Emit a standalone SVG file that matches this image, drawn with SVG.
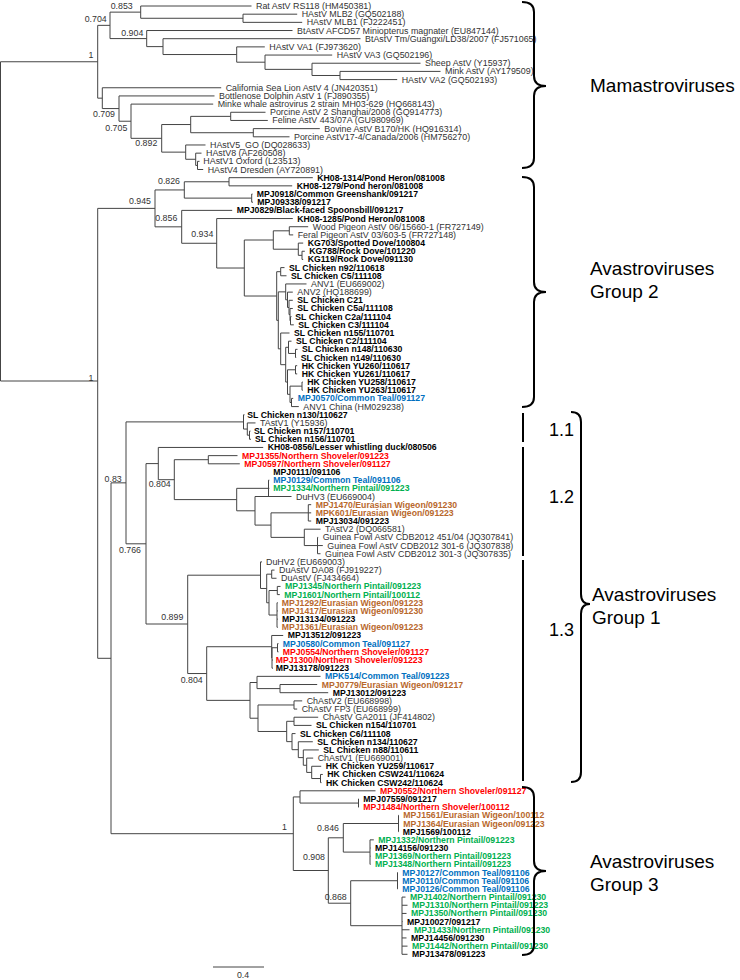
<svg xmlns="http://www.w3.org/2000/svg" width="740" height="980" viewBox="0 0 740 980">
<style>
text{font-family:"Liberation Sans",Arial,sans-serif}
.n{font-size:8.9px;fill:#333}
.b{font-size:8.7px;font-weight:bold;fill:#000}
.r{fill:#ff0000}.bl{fill:#0070c0}.g{fill:#00b050}.o{fill:#b8682c}
.s{font-size:8.8px;fill:#333;text-anchor:end}
.t{stroke:#444;stroke-width:1;fill:none}
.br{stroke:#000;stroke-width:2;fill:none}
.big{font-size:19px;fill:#000}
.sub{font-size:18px;fill:#000}
</style>
<rect width="740" height="980" fill="#fff"/>
<g id="connectors" class="t">
<path d="M0.5,61.76V381M0.5,61.76H97.7M0.5,381H97.7"/>
<path d="M97.7,25.35V98.16M97.7,25.35H110M97.7,98.16H102.3"/>
<path d="M110,12.13V38.58M110,12.13H140.7M110,38.58H146.7"/>
<path d="M140.7,6V18.27M140.7,6H251.5M140.7,18.27H243"/>
<path d="M243,14.18V22.35M243,14.18H297.2M243,22.35H302.2"/>
<path d="M146.7,30.53V46.62M146.7,30.53H292.5M146.7,46.62H163"/>
<path d="M163,38.7V54.54M163,38.7H360.5M163,54.54H236.7"/>
<path d="M236.7,46.88V62.2M236.7,46.88H264.8M236.7,62.2H265"/>
<path d="M265,55.05V69.36M265,55.05H332.2M265,69.36H312"/>
<path d="M312,63.23V75.49M312,63.23H420.5M312,75.49H340"/>
<path d="M340,71.4V79.58M340,71.4H440.5M340,79.58H397.2"/>
<path d="M102.3,87.75V108.57M102.3,87.75H221.2M102.3,108.57H119"/>
<path d="M119,95.93V121.22M119,95.93H214.5M119,121.22H131"/>
<path d="M131,104.1V138.33M131,104.1H213.2M131,138.33H161.7"/>
<path d="M161.7,124.54V152.13M161.7,124.54H190.7M161.7,152.13H185.7"/>
<path d="M190.7,116.37V132.72M190.7,116.37H230.7M190.7,132.72H253.3"/>
<path d="M230.7,112.28V120.45M230.7,112.28H265.5M230.7,120.45H267.8"/>
<path d="M253.3,128.63V136.8M253.3,128.63H319.8M253.3,136.8H289.5"/>
<path d="M185.7,144.98V159.28M185.7,144.98H205.5M185.7,159.28H195.7"/>
<path d="M195.7,153.15V165.41M195.7,153.15H201.5M195.7,165.41H197.5"/>
<path d="M197.5,161.33V169.5M197.5,161.33H199.5M197.5,169.5H203.2"/>
<path d="M97.7,208.39V658.3M97.7,208.39H155M97.7,658.3H111"/>
<path d="M155,189.94V226.83M155,189.94H184.3M155,226.83H181.7"/>
<path d="M184.3,181.77V198.12M184.3,181.77H229M184.3,198.12H251.7"/>
<path d="M229,177.68V185.85M229,177.68H312.8M229,185.85H292.2"/>
<path d="M251.7,194.03V202.2M251.7,194.03H252.5M251.7,202.2H253"/>
<path d="M181.7,210.38V243.28M181.7,210.38H232.2M181.7,243.28H216.7"/>
<path d="M216.7,218.55V268.02M216.7,218.55H292.8M216.7,268.02H244.3"/>
<path d="M244.3,240.01V296.02M244.3,240.01H273.3M244.3,296.02H276.7"/>
<path d="M273.3,230.82V249.21M273.3,230.82H289.3M273.3,249.21H298.3"/>
<path d="M289.3,226.73V234.9M289.3,226.73H308.2M289.3,234.9H293.2"/>
<path d="M298.3,243.08V255.34M298.3,243.08H303.2M298.3,255.34H302"/>
<path d="M302,251.25V259.43M302,251.25H304.8M302,259.43H303.2"/>
<path d="M276.7,271.69V320.35M276.7,271.69H280.7M276.7,320.35H278.3"/>
<path d="M280.7,267.6V275.78M280.7,267.6H284.5M280.7,275.78H286.5"/>
<path d="M278.3,291.87V348.84M278.3,291.87H285.7M278.3,348.84H280.7"/>
<path d="M285.7,283.95V299.8M285.7,283.95H306.5M285.7,299.8H287.5"/>
<path d="M287.5,292.13V307.46M287.5,292.13H292.8M287.5,307.46H289"/>
<path d="M289,300.3V314.61M289,300.3H292.8M289,314.61H290"/>
<path d="M290,308.48V320.74M290,308.48H292.8M290,320.74H290.5"/>
<path d="M290.5,316.65V324.83M290.5,316.65H291.5M290.5,324.83H293.8"/>
<path d="M280.7,333V364.68M280.7,333H289.5M280.7,364.68H285.7"/>
<path d="M285.7,347.31V382.05M285.7,347.31H288.5M285.7,382.05H287.5"/>
<path d="M288.5,341.18V353.44M288.5,341.18H291.5M288.5,353.44H295.5"/>
<path d="M295.5,349.35V357.53M295.5,349.35H297.5M295.5,357.53H296.2"/>
<path d="M287.5,369.79V394.32M287.5,369.79H295.5M287.5,394.32H290"/>
<path d="M295.5,365.7V373.88M295.5,365.7H297.2M295.5,373.88H297.2"/>
<path d="M290,386.14V402.49M290,386.14H302M290,402.49H291.5"/>
<path d="M302,382.05V390.23M302,382.05H302.8M302,390.23H302.8"/>
<path d="M291.5,398.4V406.58M291.5,398.4H293.2M291.5,406.58H298.8"/>
<path d="M111,482.85V833.7M111,482.85H126M111,833.7H293.3"/>
<path d="M126,421.9V543.8M126,421.9H243.5M126,543.8H146"/>
<path d="M243.5,414.75V429.06M243.5,414.75H244.5M243.5,429.06H247.3"/>
<path d="M247.3,422.93V435.19M247.3,422.93H255.5M247.3,435.19H249.5"/>
<path d="M249.5,431.1V439.28M249.5,431.1H250.5M249.5,439.28H251"/>
<path d="M146,463.6V624M146,463.6H158.3M146,624H187.7"/>
<path d="M158.3,447.45V479.7M158.3,447.45H263.2M158.3,479.7H174.3"/>
<path d="M174.3,459.7V499.6M174.3,459.7H208.3M174.3,499.6H236.7"/>
<path d="M208.3,455.63V463.8M208.3,455.63H237.5M208.3,463.8H239.8"/>
<path d="M236.7,488.33V510.8M236.7,488.33H268.5M236.7,510.8H255"/>
<path d="M268.5,480.15V496.5M268.5,480.15H269.3M268.5,488.33H269.3M268.5,496.5H269.3"/>
<path d="M255,496.5V525.1M255,496.5H291.5M255,525.1H271"/>
<path d="M271,512.85V537.38M271,512.85H308.3M271,537.38H304.3"/>
<path d="M308.3,504.68V521.03M308.3,504.68H311.2M308.3,512.85H311.2M308.3,521.03H311.2"/>
<path d="M304.3,529.2V545.55M304.3,529.2H320.5M304.3,545.55H317.5"/>
<path d="M317.5,537.38V553.73M317.5,537.38H318.2M317.5,545.55H322.8M317.5,553.73H320.5"/>
<path d="M187.7,575.19V673.54M187.7,575.19H260.5M187.7,673.54H206.7"/>
<path d="M260.5,561.9V588.48M260.5,561.9H262M260.5,588.48H266.7"/>
<path d="M266.7,574.17V602.78M266.7,574.17H271.7M266.7,602.78H269"/>
<path d="M271.7,570.08V578.25M271.7,570.08H274.5M271.7,578.25H276.5"/>
<path d="M269,590.52V615.04M269,590.52H277.3M269,615.04H277"/>
<path d="M277.3,586.43V594.6M277.3,586.43H280.5M277.3,594.6H279.8"/>
<path d="M277,602.78V627.3M277,602.78H277.8M277,610.95H277.8M277,619.13H277.8M277,627.3H277.8"/>
<path d="M206.7,646.72V700.36M206.7,646.72H271.7M206.7,700.36H250"/>
<path d="M271.7,635.48V657.96M271.7,635.48H283.2M271.7,657.96H272"/>
<path d="M272,647.74V668.18M272,647.74H277.5M272,660H273M272,668.18H273"/>
<path d="M277.5,643.65V651.83M277.5,643.65H278.5M277.5,651.83H278.5"/>
<path d="M250,682.5V718.22M250,682.5H257M250,718.22H258"/>
<path d="M257,676.35V688.6M257,676.35H320.5M257,688.6H280"/>
<path d="M280,684.53V692.7M280,684.53H317.2M280,692.7H328.2"/>
<path d="M258,704.97V731.47M258,704.97H294M258,731.47H286.7"/>
<path d="M294,700.88V709.05M294,700.88H302.2M294,709.05H297.2"/>
<path d="M286.7,721.31V741.63M286.7,721.31H294M286.7,741.63H292"/>
<path d="M294,717.23V725.4M294,717.23H318.2M294,725.4H311.5"/>
<path d="M292,733.58V749.68M292,733.58H295.5M292,749.68H298.3"/>
<path d="M298.3,741.75V757.6M298.3,741.75H312.8M298.3,757.6H303.3"/>
<path d="M303.3,749.93V765.26M303.3,749.93H318.8M303.3,765.26H306.7"/>
<path d="M306.7,758.1V772.41M306.7,758.1H313.2M306.7,772.41H311.7"/>
<path d="M311.7,766.28V778.54M311.7,766.28H321.2M311.7,778.54H320.5"/>
<path d="M320.5,774.45V782.63M320.5,774.45H322.8M320.5,782.63H321.5"/>
<path d="M293.3,796.93V870.5M293.3,796.93H300M293.3,870.5H328.3"/>
<path d="M300,790.8V803.07M300,790.8H375.5M300,803.07H358.5"/>
<path d="M358.5,798.98V807.15M358.5,798.98H359M358.5,807.15H359"/>
<path d="M328.3,837.8V903.21M328.3,837.8H343.3M328.3,903.21H350.7"/>
<path d="M343.3,823.5V852.1M343.3,823.5H398.5M343.3,852.1H370"/>
<path d="M398.5,815.33V831.68M398.5,815.33H399M398.5,831.68H399"/>
<path d="M370,839.85V864.38M370,839.85H373.8M370,848.03H370.5M370,856.2H370.5M370,864.38H370.5"/>
<path d="M350.7,880.73V925.69M350.7,880.73H397.5M350.7,925.69H402"/>
<path d="M397.5,872.55V888.9M397.5,872.55H398M397.5,888.9H398"/>
<path d="M402,897.08V954.3M402,897.08H405.5M402,905.25H407.5M402,913.43H406.5M402,921.6H402.5M402,929.78H409.5M402,937.95H406.5M402,946.13H407.5M402,954.3H407.5"/>
<path d="M213,967H264"/>
</g>
<g id="support">
<text class="s" x="93.5" y="58">1</text>
<text class="s" x="106.7" y="22">0.704</text>
<text class="s" x="132.7" y="9">0.853</text>
<text class="s" x="143.3" y="36.3">0.904</text>
<text class="s" x="115" y="117">0.709</text>
<text class="s" x="127.3" y="130.7">0.705</text>
<text class="s" x="157.3" y="146.3">0.892</text>
<text class="s" x="93.5" y="380.5">1</text>
<text class="s" x="180" y="184">0.826</text>
<text class="s" x="151" y="203.7">0.945</text>
<text class="s" x="177.3" y="220.7">0.856</text>
<text class="s" x="213.3" y="237">0.934</text>
<text class="s" x="121.7" y="482.3">0.83</text>
<text class="s" x="170.7" y="487.3">0.804</text>
<text class="s" x="141" y="553">0.766</text>
<text class="s" x="183.3" y="619.7">0.899</text>
<text class="s" x="202.7" y="683">0.804</text>
<text class="s" x="287" y="829.5">1</text>
<text class="s" x="339" y="831.3">0.846</text>
<text class="s" x="325" y="859.7">0.908</text>
<text class="s" x="346.7" y="899.7">0.868</text>
<text class="s" x="243" y="977.5" style="text-anchor:middle">0.4</text>
</g>
<g id="leaf-000"><text class="n" x="256" y="9">Rat AstV RS118 (HM450381)</text></g>
<g id="leaf-001"><text class="n" x="301.7" y="17.18">HAstV MLB2 (GQ502188)</text></g>
<g id="leaf-002"><text class="n" x="306.7" y="25.35">HAstV MLB1 (FJ222451)</text></g>
<g id="leaf-003"><text class="n" x="297" y="33.53">BtAstV AFCD57 Miniopterus magnater (EU847144)</text></g>
<g id="leaf-004"><text class="n" x="365" y="41.7">BtAstV Tm/Guangxi/LD38/2007 (FJ571065)</text></g>
<g id="leaf-005"><text class="n" x="269.3" y="49.88">HAstV VA1 (FJ973620)</text></g>
<g id="leaf-006"><text class="n" x="336.7" y="58.05">HAstV VA3 (GQ502196)</text></g>
<g id="leaf-007"><text class="n" x="425" y="66.23">Sheep AstV (Y15937)</text></g>
<g id="leaf-008"><text class="n" x="445" y="74.4">Mink AstV (AY179509)</text></g>
<g id="leaf-009"><text class="n" x="401.7" y="82.58">HAstV VA2 (GQ502193)</text></g>
<g id="leaf-010"><text class="n" x="225.7" y="90.75">California Sea Lion AstV 4 (JN420351)</text></g>
<g id="leaf-011"><text class="n" x="219" y="98.93">Bottlenose Dolphin AstV 1 (FJ890355)</text></g>
<g id="leaf-012"><text class="n" x="217.7" y="107.1">Minke whale astrovirus 2 strain MH03-629 (HQ668143)</text></g>
<g id="leaf-013"><text class="n" x="270" y="115.28">Porcine AstV 2 Shanghai/2008 (GQ914773)</text></g>
<g id="leaf-014"><text class="n" x="272.3" y="123.45">Feline AstV 443/07A (GU980969)</text></g>
<g id="leaf-015"><text class="n" x="324.3" y="131.63">Bovine AstV B170/HK (HQ916314)</text></g>
<g id="leaf-016"><text class="n" x="294" y="139.8">Porcine AstV17-4/Canada/2006 (HM756270)</text></g>
<g id="leaf-017"><text class="n" x="210" y="147.98">HAstV5_GO (DQ028633)</text></g>
<g id="leaf-018"><text class="n" x="206" y="156.15">HAstV8 (AF260508)</text></g>
<g id="leaf-019"><text class="n" x="203.3" y="164.33">HAstV1 Oxford (L23513)</text></g>
<g id="leaf-020"><text class="n" x="207.7" y="172.5">HAstV4 Dresden (AY720891)</text></g>
<g id="leaf-021"><text class="b" x="317.3" y="180.68">KH08-1314/Pond Heron/081008</text></g>
<g id="leaf-022"><text class="b" x="296.7" y="188.85">KH08-1279/Pond heron/081008</text></g>
<g id="leaf-023"><text class="b" x="256.7" y="197.03">MPJ0918/Common Greenshank/091217</text></g>
<g id="leaf-024"><text class="b" x="257.3" y="205.2">MPJ09338/091217</text></g>
<g id="leaf-025"><text class="b" x="236.7" y="213.38">MPJ0829/Black-faced Spoonsbill/091217</text></g>
<g id="leaf-026"><text class="b" x="297.3" y="221.55">KH08-1285/Pond Heron/081008</text></g>
<g id="leaf-027"><text class="n" x="312.7" y="229.73">Wood Pigeon AstV 06/15660-1 (FR727149)</text></g>
<g id="leaf-028"><text class="n" x="297.7" y="237.9">Feral Pigeon AstV 03/603-5 (FR727148)</text></g>
<g id="leaf-029"><text class="b" x="307.7" y="246.08">KG703/Spotted Dove/100804</text></g>
<g id="leaf-030"><text class="b" x="309.3" y="254.25">KG788/Rock Dove/101220</text></g>
<g id="leaf-031"><text class="b" x="307.7" y="262.43">KG119/Rock Dove/091130</text></g>
<g id="leaf-032"><text class="b" x="289" y="270.6">SL Chicken n92/110618</text></g>
<g id="leaf-033"><text class="b" x="291" y="278.78">SL Chicken C5/111108</text></g>
<g id="leaf-034"><text class="n" x="311" y="286.95">ANV1 (EU669002)</text></g>
<g id="leaf-035"><text class="n" x="297.3" y="295.13">ANV2 (HQ188699)</text></g>
<g id="leaf-036"><text class="b" x="297.3" y="303.3">SL Chicken C21</text></g>
<g id="leaf-037"><text class="b" x="297.3" y="311.48">SL Chicken C5a/111108</text></g>
<g id="leaf-038"><text class="b" x="295.3" y="319.65">SL Chicken C2a/111104</text></g>
<g id="leaf-039"><text class="b" x="298.3" y="327.83">SL Chicken C3/111104</text></g>
<g id="leaf-040"><text class="b" x="294" y="336">SL Chicken n155/110701</text></g>
<g id="leaf-041"><text class="b" x="296" y="344.18">SL Chicken C2/111104</text></g>
<g id="leaf-042"><text class="b" x="302" y="352.35">SL Chicken n148/110630</text></g>
<g id="leaf-043"><text class="b" x="300.7" y="360.53">SL Chicken n149/110630</text></g>
<g id="leaf-044"><text class="b" x="301.7" y="368.7">HK Chicken YU260/110617</text></g>
<g id="leaf-045"><text class="b" x="301.7" y="376.88">HK Chicken YU261/110617</text></g>
<g id="leaf-046"><text class="b" x="307.3" y="385.05">HK Chicken YU258/110617</text></g>
<g id="leaf-047"><text class="b" x="307.3" y="393.23">HK Chicken YU263/110617</text></g>
<g id="leaf-048"><text class="b bl" x="297.7" y="401.4">MPJ0570/Common Teal/091127</text></g>
<g id="leaf-049"><text class="n" x="303.3" y="409.58">ANV1 China (HM029238)</text></g>
<g id="leaf-050"><text class="b" x="247.3" y="417.75">SL Chicken n130/110627</text></g>
<g id="leaf-051"><text class="n" x="260" y="425.93">TAstV1 (Y15936)</text></g>
<g id="leaf-052"><text class="b" x="254" y="434.1">SL Chicken n157/110701</text></g>
<g id="leaf-053"><text class="b" x="255" y="442.28">SL Chicken n156/110701</text></g>
<g id="leaf-054"><text class="b" x="267.7" y="450.45">KH08-0856/Lesser whistling duck/080506</text></g>
<g id="leaf-055"><text class="b r" x="242" y="458.63">MPJ1355/Northern Shoveler/091223</text></g>
<g id="leaf-056"><text class="b r" x="244.3" y="466.8">MPJ0597/Northern Shoveler/091127</text></g>
<g id="leaf-057"><text class="b" x="273.3" y="474.98">MPJ0111/091106</text></g>
<g id="leaf-058"><text class="b bl" x="273.3" y="483.15">MPJ0129/Common Teal/091106</text></g>
<g id="leaf-059"><text class="b g" x="273.3" y="491.33">MPJ1334/Northern Pintail/091223</text></g>
<g id="leaf-060"><text class="n" x="296" y="499.5">DuHV3 (EU669004)</text></g>
<g id="leaf-061"><text class="b o" x="315.7" y="507.68">MPJ1470/Eurasian Wigeon/091230</text></g>
<g id="leaf-062"><text class="b o" x="315.7" y="515.85">MPK601/Eurasian Wigeon/091223</text></g>
<g id="leaf-063"><text class="b" x="315.7" y="524.03">MPJ13034/091223</text></g>
<g id="leaf-064"><text class="n" x="325" y="532.2">TAstV2 (DQ066581)</text></g>
<g id="leaf-065"><text class="n" x="322.7" y="540.38">Guinea Fowl AstV CDB2012 451/04 (JQ307841)</text></g>
<g id="leaf-066"><text class="n" x="327.3" y="548.55">Guinea Fowl AstV CDB2012 301-6 (JQ307838)</text></g>
<g id="leaf-067"><text class="n" x="325" y="556.73">Guinea Fowl AstV CDB2012 301-3 (JQ307835)</text></g>
<g id="leaf-068"><text class="n" x="266" y="564.9">DuHV2 (EU669003)</text></g>
<g id="leaf-069"><text class="n" x="279" y="573.08">DuAstV DA08 (FJ919227)</text></g>
<g id="leaf-070"><text class="n" x="281" y="581.25">DuAstV (FJ434664)</text></g>
<g id="leaf-071"><text class="b g" x="285" y="589.43">MPJ1345/Northern Pintail/091223</text></g>
<g id="leaf-072"><text class="b g" x="284.3" y="597.6">MPJ1601/Northern Pintail/100112</text></g>
<g id="leaf-073"><text class="b o" x="281.7" y="605.78">MPJ1292/Eurasian Wigeon/091223</text></g>
<g id="leaf-074"><text class="b o" x="281.7" y="613.95">MPJ1417/Eurasian Wigeon/091230</text></g>
<g id="leaf-075"><text class="b" x="282" y="622.13">MPJ13134/091223</text></g>
<g id="leaf-076"><text class="b o" x="281.7" y="630.3">MPJ1361/Eurasian Wigeon/091223</text></g>
<g id="leaf-077"><text class="b" x="287.7" y="638.48">MPJ13512/091223</text></g>
<g id="leaf-078"><text class="b bl" x="282.7" y="646.65">MPJ0580/Common Teal/091127</text></g>
<g id="leaf-079"><text class="b r" x="282.7" y="654.83">MPJ0554/Northern Shoveler/091127</text></g>
<g id="leaf-080"><text class="b r" x="275.7" y="663">MPJ1300/Northern Shoveler/091223</text></g>
<g id="leaf-081"><text class="b" x="275.7" y="671.18">MPJ13178/091223</text></g>
<g id="leaf-082"><text class="b bl" x="325" y="679.35">MPK514/Common Teal/091223</text></g>
<g id="leaf-083"><text class="b o" x="321.7" y="687.53">MPJ0779/Eurasian Wigeon/091217</text></g>
<g id="leaf-084"><text class="b" x="332.7" y="695.7">MPJ13012/091223</text></g>
<g id="leaf-085"><text class="n" x="306.7" y="703.88">ChAstV2 (EU668998)</text></g>
<g id="leaf-086"><text class="n" x="301.7" y="712.05">ChAstV FP3 (EU668999)</text></g>
<g id="leaf-087"><text class="n" x="322.7" y="720.23">ChAstV GA2011 (JF414802)</text></g>
<g id="leaf-088"><text class="b" x="316" y="728.4">SL Chicken n154/110701</text></g>
<g id="leaf-089"><text class="b" x="300" y="736.58">SL Chicken C6/111108</text></g>
<g id="leaf-090"><text class="b" x="317.3" y="744.75">SL Chicken n134/110627</text></g>
<g id="leaf-091"><text class="b" x="323.3" y="752.93">SL Chicken n88/110611</text></g>
<g id="leaf-092"><text class="n" x="317.7" y="761.1">ChAstV1 (EU669001)</text></g>
<g id="leaf-093"><text class="b" x="325.7" y="769.28">HK Chicken YU259/110617</text></g>
<g id="leaf-094"><text class="b" x="327.3" y="777.45">HK Chicken CSW241/110624</text></g>
<g id="leaf-095"><text class="b" x="326" y="785.63">HK Chicken CSW242/110624</text></g>
<g id="leaf-096"><text class="b r" x="380" y="793.8">MPJ0552/Northern Shoveler/091127</text></g>
<g id="leaf-097"><text class="b" x="363.3" y="801.98">MPJ07559/091217</text></g>
<g id="leaf-098"><text class="b r" x="363.3" y="810.15">MPJ1484/Northern Shoveler/100112</text></g>
<g id="leaf-099"><text class="b o" x="403.3" y="818.33">MPJ1561/Eurasian Wigeon/100112</text></g>
<g id="leaf-100"><text class="b o" x="403.3" y="826.5">MPJ1364/Eurasian Wigeon/091223</text></g>
<g id="leaf-101"><text class="b" x="402.7" y="834.68">MPJ1569/100112</text></g>
<g id="leaf-102"><text class="b g" x="378.3" y="842.85">MPJ1332/Northern Pintail/091223</text></g>
<g id="leaf-103"><text class="b" x="375" y="851.03">MPJ14156/091230</text></g>
<g id="leaf-104"><text class="b g" x="375" y="859.2">MPJ1369/Northern Pintail/091223</text></g>
<g id="leaf-105"><text class="b g" x="375" y="867.38">MPJ1348/Northern Pintail/091223</text></g>
<g id="leaf-106"><text class="b bl" x="402.3" y="875.55">MPJ0127/Common Teal/091106</text></g>
<g id="leaf-107"><text class="b bl" x="402.3" y="883.73">MPJ0110/Common Teal/091106</text></g>
<g id="leaf-108"><text class="b bl" x="402.3" y="891.9">MPJ0126/Common Teal/091106</text></g>
<g id="leaf-109"><text class="b g" x="410" y="900.08">MPJ1402/Northern Pintail/091230</text></g>
<g id="leaf-110"><text class="b g" x="412" y="908.25">MPJ1310/Northern Pintail/091223</text></g>
<g id="leaf-111"><text class="b g" x="411" y="916.43">MPJ1350/Northern Pintail/091230</text></g>
<g id="leaf-112"><text class="b" x="407" y="924.6">MPJ10027/091217</text></g>
<g id="leaf-113"><text class="b g" x="414" y="932.78">MPJ1433/Northern Pintail/091230</text></g>
<g id="leaf-114"><text class="b" x="411" y="940.95">MPJ14456/091230</text></g>
<g id="leaf-115"><text class="b g" x="412" y="949.13">MPJ1442/Northern Pintail/091230</text></g>
<g id="leaf-116"><text class="b" x="412" y="957.3">MPJ13478/091223</text></g>
<g id="clade-mamastro">
<path class="br" d="M522,2Q534,2 534,12V76Q534,86 546,86Q534,86 534,96V158Q534,168 522,168"/>
<text class="big" x="590" y="92">Mamastroviruses</text>
</g>
<g id="clade-group2">
<path class="br" d="M522,177Q534,177 534,187V282Q534,292 546,292Q534,292 534,302V397Q534,407 522,407"/>
<text class="big" x="590" y="275">Avastroviruses</text>
<text class="big" x="590" y="298">Group 2</text>
</g>
<g id="clade-group1">
<path class="br" d="M523,413V442M523,447V556M523,560V781"/>
<text class="sub" x="549" y="436">1.1</text>
<text class="sub" x="549" y="503">1.2</text>
<text class="sub" x="549" y="636">1.3</text>
<path class="br" d="M571,412Q581,412 581,422V594Q581,604 590,604Q581,604 581,614V772Q581,782 571,782"/>
<text class="big" x="592" y="601">Avastroviruses</text>
<text class="big" x="592" y="624">Group 1</text>
</g>
<g id="clade-group3">
<path class="br" d="M522,787Q534,787 534,797V861Q534,871 546,871Q534,871 534,881V945Q534,955 522,955"/>
<text class="big" x="590" y="868">Avastroviruses</text>
<text class="big" x="590" y="891">Group 3</text>
</g>
</svg>
